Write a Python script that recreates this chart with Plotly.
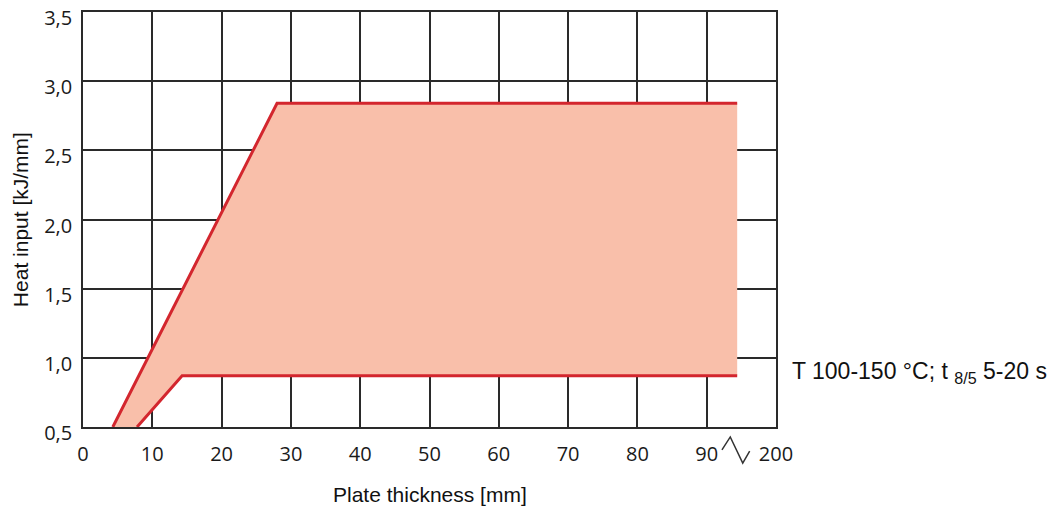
import plotly.graph_objects as go

# Data
upper_x = [4.3, 28.0, 94.4]
upper_y = [0.5, 2.84, 2.84]
lower_x = [7.8, 14.3, 94.4]
lower_y = [0.5, 0.87, 0.87]

x_tickvals = [0, 10, 20, 30, 40, 50, 60, 70, 80, 90, 100]
x_ticktext = ["0", "10", "20", "30", "40", "50", "60", "70", "80", "90", "200"]
y_tickvals = [0.5, 1.0, 1.5, 2.0, 2.5, 3.0, 3.5]
y_ticktext = ["0,5", "1,0", "1,5", "2,0", "2,5", "3,0", "3,5"]

RED = "#D3262E"
FILL = "#F9BFAA"
GRID = "#2a2a2a"

fig = go.Figure()

# filled region between the two boundary lines
poly_x = upper_x + lower_x[::-1]
poly_y = upper_y + lower_y[::-1]
fig.add_trace(go.Scatter(x=poly_x, y=poly_y, fill="toself", fillcolor=FILL,
                         mode="none", hoverinfo="skip", showlegend=False))
fig.add_trace(go.Scatter(x=upper_x, y=upper_y, mode="lines",
                         line=dict(color=RED, width=3), showlegend=False))
fig.add_trace(go.Scatter(x=lower_x, y=lower_y, mode="lines",
                         line=dict(color=RED, width=3), showlegend=False))

tick_font = dict(family="Open Sans", size=20, color="#1a1a1a")
title_font = dict(family="Liberation Sans, Arial", size=21, color="#111")

fig.update_xaxes(range=[0, 100], tickvals=x_tickvals, ticktext=x_ticktext,
                 showgrid=True, gridcolor=GRID, gridwidth=1.6,
                 showline=True, linecolor=GRID, linewidth=1.6, mirror=True,
                 ticks="", tickfont=tick_font, zeroline=False,
                 ticklabelstandoff=8, automargin=False)
fig.update_yaxes(range=[0.5, 3.5], tickvals=y_tickvals, ticktext=y_ticktext,
                 showgrid=True, gridcolor=GRID, gridwidth=1.6,
                 showline=True, linecolor=GRID, linewidth=1.6, mirror=True,
                 ticks="", tickfont=tick_font, zeroline=False,
                 ticklabelstandoff=5, ticklabelshift=6, automargin=False)

# axis titles
fig.add_annotation(x=0.5, y=-0.163, xref="paper", yref="paper",
                   xanchor="center", yanchor="middle", showarrow=False,
                   text="Plate thickness [mm]", font=title_font)
fig.add_annotation(x=-0.09, y=0.5, xref="paper", yref="paper",
                   xanchor="center", yanchor="middle", showarrow=False,
                   textangle=-90, text="Heat input [kJ/mm]", font=title_font)

# axis break symbol
fig.add_shape(type="path", xref="x", yref="y domain",
              path="M 92.2,-0.055 L 93.4,-0.024 L 95.2,-0.087 L 96.2,-0.058",
              line=dict(color="#333", width=1.5))

fig.add_annotation(x=1.02, y=0.1325, xref="paper", yref="paper",
                   xanchor="left", yanchor="middle", showarrow=False,
                   text="T 100-150 °C; t <sub>8/5</sub> 5-20 s",
                   font=dict(family="Liberation Sans, Arial", size=23, color="#111"))

fig.update_layout(width=1058, height=509,
                  margin=dict(l=83, r=282, t=12, b=82),
                  plot_bgcolor="white", paper_bgcolor="white")

fig.write_html("out.html")
